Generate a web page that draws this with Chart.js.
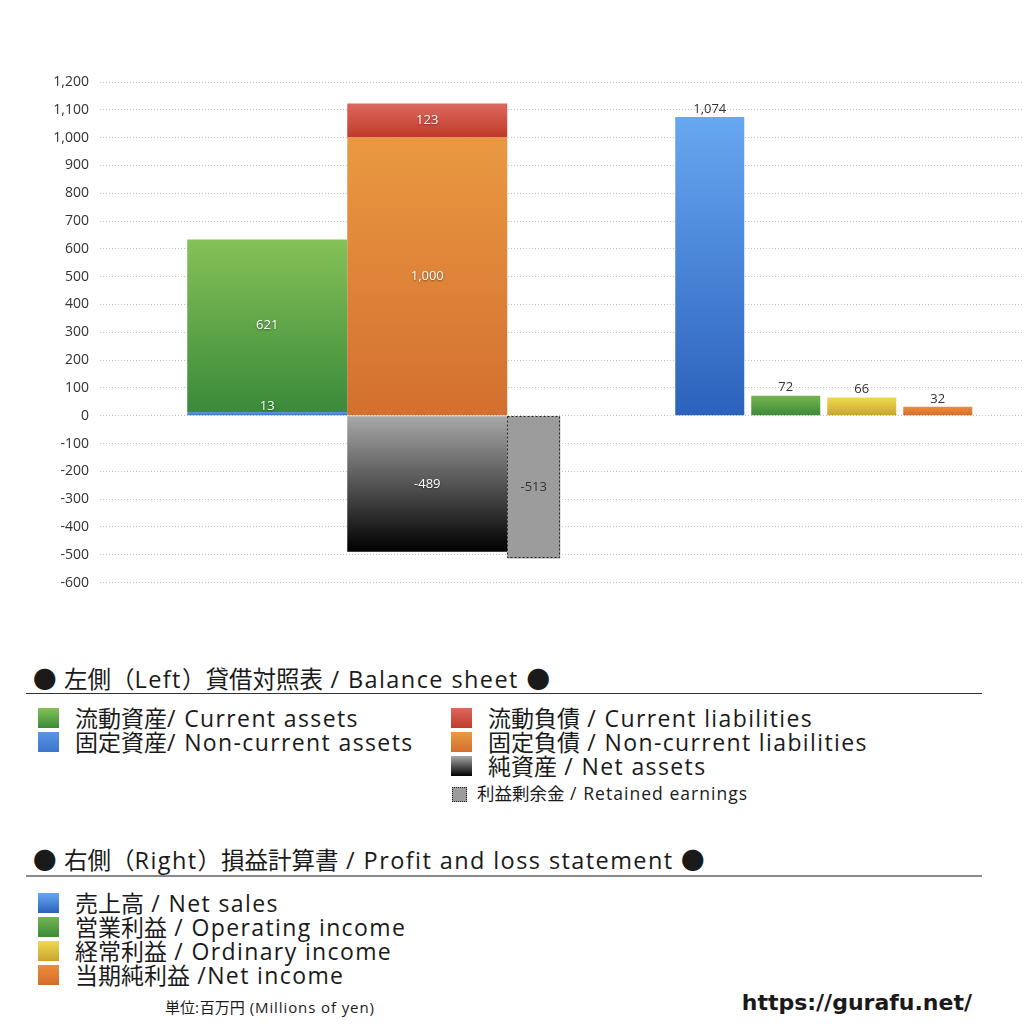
<!DOCTYPE html>
<html lang="ja">
<head>
<meta charset="utf-8">
<script src="https://cdn.jsdelivr.net/npm/chart.js@4.4.1/dist/chart.umd.min.js"></script>
<style>
  body { margin: 0; width: 1024px; height: 1024px; position: relative; background: #fff; overflow: hidden;
         font-family: "Open Sans", "Noto Sans CJK JP", sans-serif; color: #1a1a1a; }
  #chart { position: absolute; left: 0; top: 0; }
  .txt { position: absolute; white-space: nowrap; line-height: 1; }
  .txt .lat { letter-spacing: 0.06em; }
  .head { font-size: 23px; }
  .item { font-size: 23px; }
  .rule { position: absolute; left: 26px; width: 956px; }
  .sw { position: absolute; width: 21px; height: 20px; }
</style>
</head>
<body>
<canvas id="chart" width="1024" height="602"></canvas>
<div id="legend"></div>
<script>
// groups on the x axis
const groups = ['貸借対照表', '損益計算書'];

// left side: balance sheet (millions of yen)
const bsNames = ['流動資産/ Current assets', '固定資産/ Non-current assets', '流動負債 /  Current liabilities',
                 '固定負債 / Non-current liabilities', '純資産 / Net assets', '利益剰余金 / Retained earnings'];
const bsValues = [621, 13, 123, 1000, -489, -513];

// right side: profit and loss statement
const plNames = ['売上高 / Net sales', '営業利益 / Operating income', '経常利益 / Ordinary income', '当期純利益 /Net income'];
const plValues = [1074, 72, 66, 32];

// y axis ticks
const yMin = -600;
const yMax = 1200;
const yStep = 100;

const headings = ['● 左側（Left）貸借対照表 / Balance sheet ●', '● 右側（Right）損益計算書 / Profit and loss statement ●'];
const unitText = '単位:百万円 (Millions of yen)';
const sourceText = 'https://gurafu.net/';

// styles
const bsStack = ['assets', 'assets', 'liab', 'liab', 'liab', 'retained'];
const bsStackOrder = [1, 0, 3, 2, 4, 5]; // bottom of each stack first
const bsFill = [['#86c158', '#3a8a3a'], ['#5b95e4', '#3c75cc'], ['#dc695d', '#c03a2a'],
                ['#ea9941', '#d36f30'], ['#a8a8a8', '#000000'], ['#9c9c9c', '#9c9c9c']];
const plFill = [['#68a7f1', '#2b62bc'], ['#75b552', '#3d8a38'], ['#efda50', '#c9a430'], ['#eb8d3d', '#d46c2a']];
const FONT = '"Open Sans", "Noto Sans CJK JP", sans-serif';

function gradientFill(stops, from, to) {
  return (c) => {
    const chart = c.chart;
    const y = chart.scales && chart.scales.y;
    if (!y || !chart.chartArea) return stops[1];
    const y0 = y.getPixelForValue(Math.max(from, to));
    const y1 = y.getPixelForValue(Math.min(from, to));
    if (!isFinite(y0) || !isFinite(y1) || y0 === y1) return stops[1];
    const g = chart.ctx.createLinearGradient(0, y0, 0, y1);
    g.addColorStop(0, stops[0]);
    g.addColorStop(1, stops[1]);
    return g;
  };
}

const datasets = [];
const stackSums = {};
bsStackOrder.forEach(i => {
  const v = bsValues[i];
  const key = bsStack[i] + (v < 0 ? '-' : '+');
  const base = stackSums[key] || 0;
  stackSums[key] = base + v;
  const isRetained = bsStack[i] === 'retained';
  datasets.push({
    label: bsNames[i],
    data: [v, null],
    stack: bsStack[i],
    skipNull: true,
    clip: false,
    backgroundColor: gradientFill(bsFill[i], base, base + v),
    borderWidth: 0,
    categoryPercentage: isRetained ? 0.8058 : 1.2106,
    barPercentage: isRetained ? 0.4977 : 1,
    labelColor: isRetained ? '#333' : '#fff',
    labelPos: 'inside',
    dashed: isRetained
  });
});
plValues.forEach((v, i) => {
  datasets.push({
    label: plNames[i],
    data: [null, v],
    stack: 'pl' + i,
    skipNull: true,
    backgroundColor: gradientFill(plFill[i], 0, v),
    borderWidth: 0,
    categoryPercentage: 0.7667,
    barPercentage: 0.9079,
    labelColor: '#333',
    labelPos: 'top'
  });
});

const dashedOutline = {
  id: 'dashedOutline',
  afterDatasetsDraw(chart) {
    const ctx = chart.ctx;
    chart.data.datasets.forEach((ds, i) => {
      if (!ds.dashed) return;
      chart.getDatasetMeta(i).data.forEach((bar, j) => {
        if (ds.data[j] == null) return;
        const top = Math.min(bar.y, bar.base), h = Math.abs(bar.base - bar.y);
        ctx.save();
        ctx.setLineDash([2, 2]);
        ctx.strokeStyle = '#222';
        ctx.lineWidth = 1;
        ctx.strokeRect(Math.round(bar.x - bar.width / 2) + 0.5, Math.round(top) + 0.5, Math.round(bar.width) - 1, Math.round(h) - 1);
        ctx.restore();
      });
    });
  }
};

const valueLabels = {
  id: 'valueLabels',
  afterDatasetsDraw(chart) {
    const ctx = chart.ctx;
    ctx.save();
    ctx.font = '13px ' + FONT;
    ctx.textAlign = 'center';
    ctx.textBaseline = 'middle';
    chart.data.datasets.forEach((ds, i) => {
      chart.getDatasetMeta(i).data.forEach((bar, j) => {
        const v = ds.data[j];
        if (v == null) return;
        const h = Math.abs(bar.base - bar.y);
        let y;
        if (ds.labelPos === 'top') y = Math.min(bar.y, bar.base) - 8;
        else if (h < 18) y = Math.min(bar.y, bar.base) - 6;
        else y = (bar.y + bar.base) / 2;
        if (ds.labelColor === '#fff') {
          ctx.shadowColor = 'rgba(0,0,0,0.45)';
          ctx.shadowBlur = 2;
          ctx.shadowOffsetY = 1;
        } else {
          ctx.shadowColor = 'transparent';
        }
        ctx.fillStyle = ds.labelColor;
        ctx.fillText(v.toLocaleString('en-US'), bar.x, y);
      });
    });
    ctx.restore();
  }
};

new Chart(document.getElementById('chart'), {
  type: 'bar',
  data: { labels: groups, datasets: datasets },
  options: {
    responsive: false,
    animation: false,
    layout: { padding: { top: 82, right: 2, bottom: 17, left: 0 } },
    plugins: { legend: { display: false }, tooltip: { enabled: false } },
    scales: {
      x: { display: false },
      y: {
        stacked: true,
        min: yMin,
        max: yMax,
        afterFit(scale) { scale.width = 229; },
        border: { display: false, dash: [1, 2] },
        grid: { color: '#c4c4c4', tickColor: '#c4c4c4', tickLength: 129, tickBorderDash: [1, 2] },
        ticks: {
          stepSize: yStep,
          padding: 11,
          color: '#333',
          font: { size: 14, family: FONT },
          callback: v => Number(v).toLocaleString('en-US')
        }
      }
    }
  },
  plugins: [dashedOutline, valueLabels]
});

// HTML legend
const legend = document.getElementById('legend');
function addText(text, cls, left, centerY, size) {
  const d = document.createElement('div');
  d.className = 'txt ' + cls;
  // latin runs are set a little wider than the CJK runs
  text.split(/([\u25cf\u3000-\u9fff\uff00-\uffef]+)/).forEach(part => {
    if (!part) return;
    const s = document.createElement('span');
    s.textContent = part;
    if (!/[\u25cf\u3000-\u9fff\uff00-\uffef]/.test(part)) s.className = 'lat';
    d.appendChild(s);
  });
  d.style.left = left + 'px';
  d.style.top = centerY + 'px';
  d.style.transform = 'translateY(-50%)';
  if (size) d.style.fontSize = size + 'px';
  legend.appendChild(d);
  return d;
}
function addSwatch(stops, left, top, extra) {
  const s = document.createElement('div');
  s.className = 'sw';
  s.style.left = left + 'px';
  s.style.top = top + 'px';
  s.style.background = 'linear-gradient(' + stops[0] + ',' + stops[1] + ')';
  if (extra) Object.assign(s.style, extra);
  legend.appendChild(s);
}
function addRule(top, h, color) {
  const r = document.createElement('div');
  r.className = 'rule';
  r.style.top = top + 'px';
  r.style.height = h + 'px';
  r.style.background = color;
  legend.appendChild(r);
}

addText(headings[0], 'head', 33, 680, 23.5);
addRule(693, 1, '#333');
const bsCol = [0, 0, 1, 1, 1, 1];
const bsRow = [0, 1, 0, 1, 2, 3];
bsNames.forEach((name, i) => {
  const sx = bsCol[i] ? 451 : 38;
  const tx = bsCol[i] ? 488 : 75;
  const cy = 718 + bsRow[i] * 24;
  if (bsStack[i] === 'retained') {
    addSwatch(bsFill[i], sx + 1, 787, { width: '13px', height: '13px', border: '1px dotted #222' });
    addText(name, 'item', 477, 794, 17.5);
  } else {
    addSwatch(bsFill[i], sx, cy - 10);
    addText(name, 'item', tx, cy);
  }
});

addText(headings[1], 'head', 33, 861, 23.5);
addRule(875, 2, '#888');
plNames.forEach((name, i) => {
  const cy = 903 + i * 24;
  addSwatch(plFill[i], 38, cy - 10);
  addText(name, 'item', 75, cy);
});

addText(unitText, 'item', 165, 1007, 15);
const src = document.createElement('div');
src.className = 'txt';
src.textContent = sourceText;
Object.assign(src.style, { right: (1024 - 972) + 'px', top: '1003px', transform: 'translateY(-50%)',
  fontFamily: '"DejaVu Sans", sans-serif', fontWeight: 'bold', fontSize: '22px' });
legend.appendChild(src);
</script>
</body>
</html>
